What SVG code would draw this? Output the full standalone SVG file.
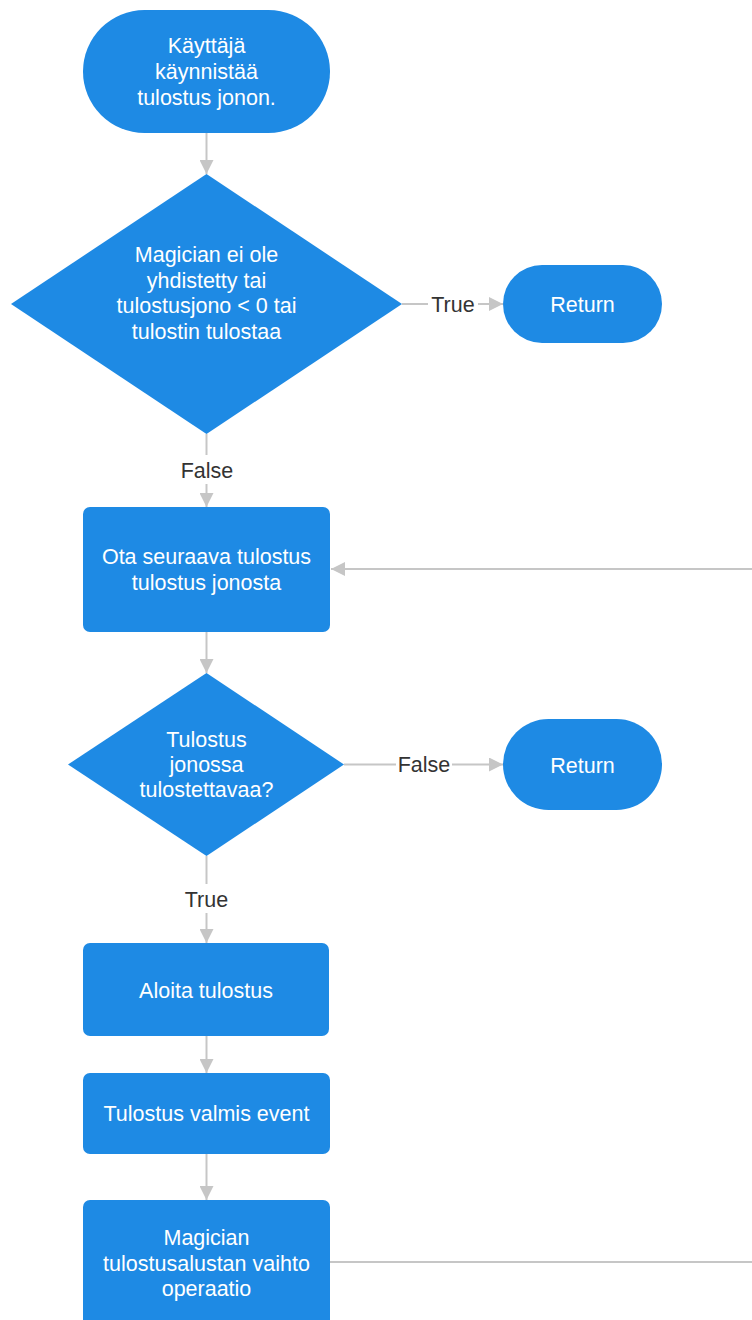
<svg xmlns="http://www.w3.org/2000/svg" width="752" height="1320" viewBox="0 0 752 1320">
  <defs>
    <style>
      .node { fill: #1e8ae4; }
      .nt { fill: #ffffff; font-family: "Liberation Sans", Arial, sans-serif; font-size: 21.5px; text-anchor: middle; }
      .edge { stroke: #c6c6c6; stroke-width: 2; fill: none; }
      .lbl { fill: #333333; font-family: "Liberation Sans", Arial, sans-serif; font-size: 21.5px; text-anchor: middle; }
    </style>
    <marker id="arrow" viewBox="0 0 14 14" refX="14" refY="7" markerWidth="14" markerHeight="14" markerUnits="userSpaceOnUse" orient="auto">
      <path d="M0,0 L14,7 L0,14 Z" fill="#c6c6c6"/>
    </marker>
  </defs>
  <rect width="752" height="1320" fill="#ffffff"/>

  <g id="connectors">
    <line class="edge" x1="206.5" y1="133" x2="206.5" y2="174" marker-end="url(#arrow)"/>
    <line class="edge" x1="402" y1="304" x2="428" y2="304"/>
    <line class="edge" x1="478" y1="304" x2="503" y2="304" marker-end="url(#arrow)"/>
    <line class="edge" x1="206.5" y1="434" x2="206.5" y2="455"/>
    <line class="edge" x1="206.5" y1="484" x2="206.5" y2="507" marker-end="url(#arrow)"/>
    <line class="edge" x1="752" y1="569" x2="331" y2="569" marker-end="url(#arrow)"/>
    <line class="edge" x1="206.5" y1="632" x2="206.5" y2="673" marker-end="url(#arrow)"/>
    <line class="edge" x1="344" y1="764.5" x2="396" y2="764.5"/>
    <line class="edge" x1="452" y1="764.5" x2="503" y2="764.5" marker-end="url(#arrow)"/>
    <line class="edge" x1="206.5" y1="856" x2="206.5" y2="884"/>
    <line class="edge" x1="206.5" y1="913" x2="206.5" y2="943" marker-end="url(#arrow)"/>
    <line class="edge" x1="206.5" y1="1036" x2="206.5" y2="1073" marker-end="url(#arrow)"/>
    <line class="edge" x1="206.5" y1="1154" x2="206.5" y2="1200" marker-end="url(#arrow)"/>
    <line class="edge" x1="330" y1="1262" x2="752" y2="1262"/>
    <text class="lbl" x="453" y="312">True</text>
    <text class="lbl" x="207" y="478">False</text>
    <text class="lbl" x="424" y="772">False</text>
    <text class="lbl" x="206.5" y="907">True</text>
  </g>

  <g id="start">
    <rect class="node" x="83" y="10" width="247" height="123" rx="61.5" ry="61.5"/>
    <text class="nt" x="206.5" y="53">Käyttäjä</text>
    <text class="nt" x="206.5" y="79">käynnistää</text>
    <text class="nt" x="206.5" y="105">tulostus jonon.</text>
  </g>

  <g id="decision1">
    <polygon class="node" points="206.5,174 402,304 206.5,434 11,304"/>
    <text class="nt" x="206.5" y="262">Magician ei ole</text>
    <text class="nt" x="206.5" y="287.5">yhdistetty tai</text>
    <text class="nt" x="206.5" y="313">tulostusjono &lt; 0 tai</text>
    <text class="nt" x="206.5" y="338.5">tulostin tulostaa</text>
  </g>

  <g id="return1">
    <rect class="node" x="503" y="265" width="159" height="78" rx="39" ry="39"/>
    <text class="nt" x="582.5" y="312">Return</text>
  </g>

  <g id="takeNext">
    <rect class="node" x="83" y="507" width="247" height="125" rx="7" ry="7"/>
    <text class="nt" x="206.5" y="564">Ota seuraava tulostus</text>
    <text class="nt" x="206.5" y="590">tulostus jonosta</text>
  </g>

  <g id="decision2">
    <polygon class="node" points="206.5,673 344,764.5 206.5,856 68,764.5"/>
    <text class="nt" x="206.5" y="747">Tulostus</text>
    <text class="nt" x="206.5" y="772">jonossa</text>
    <text class="nt" x="206.5" y="797">tulostettavaa?</text>
  </g>

  <g id="return2">
    <rect class="node" x="503" y="719" width="159" height="91" rx="45.5" ry="45.5"/>
    <text class="nt" x="582.5" y="773">Return</text>
  </g>

  <g id="startPrint">
    <rect class="node" x="83" y="943" width="246" height="93" rx="7" ry="7"/>
    <text class="nt" x="206" y="998">Aloita tulostus</text>
  </g>

  <g id="printDone">
    <rect class="node" x="83" y="1073" width="247" height="81" rx="7" ry="7"/>
    <text class="nt" x="206.5" y="1121">Tulostus valmis event</text>
  </g>

  <g id="swapPlate">
    <rect class="node" x="83" y="1200" width="247" height="140" rx="7" ry="7"/>
    <text class="nt" x="206.5" y="1245">Magician</text>
    <text class="nt" x="206.5" y="1271">tulostusalustan vaihto</text>
    <text class="nt" x="206.5" y="1296">operaatio</text>
  </g>
</svg>
